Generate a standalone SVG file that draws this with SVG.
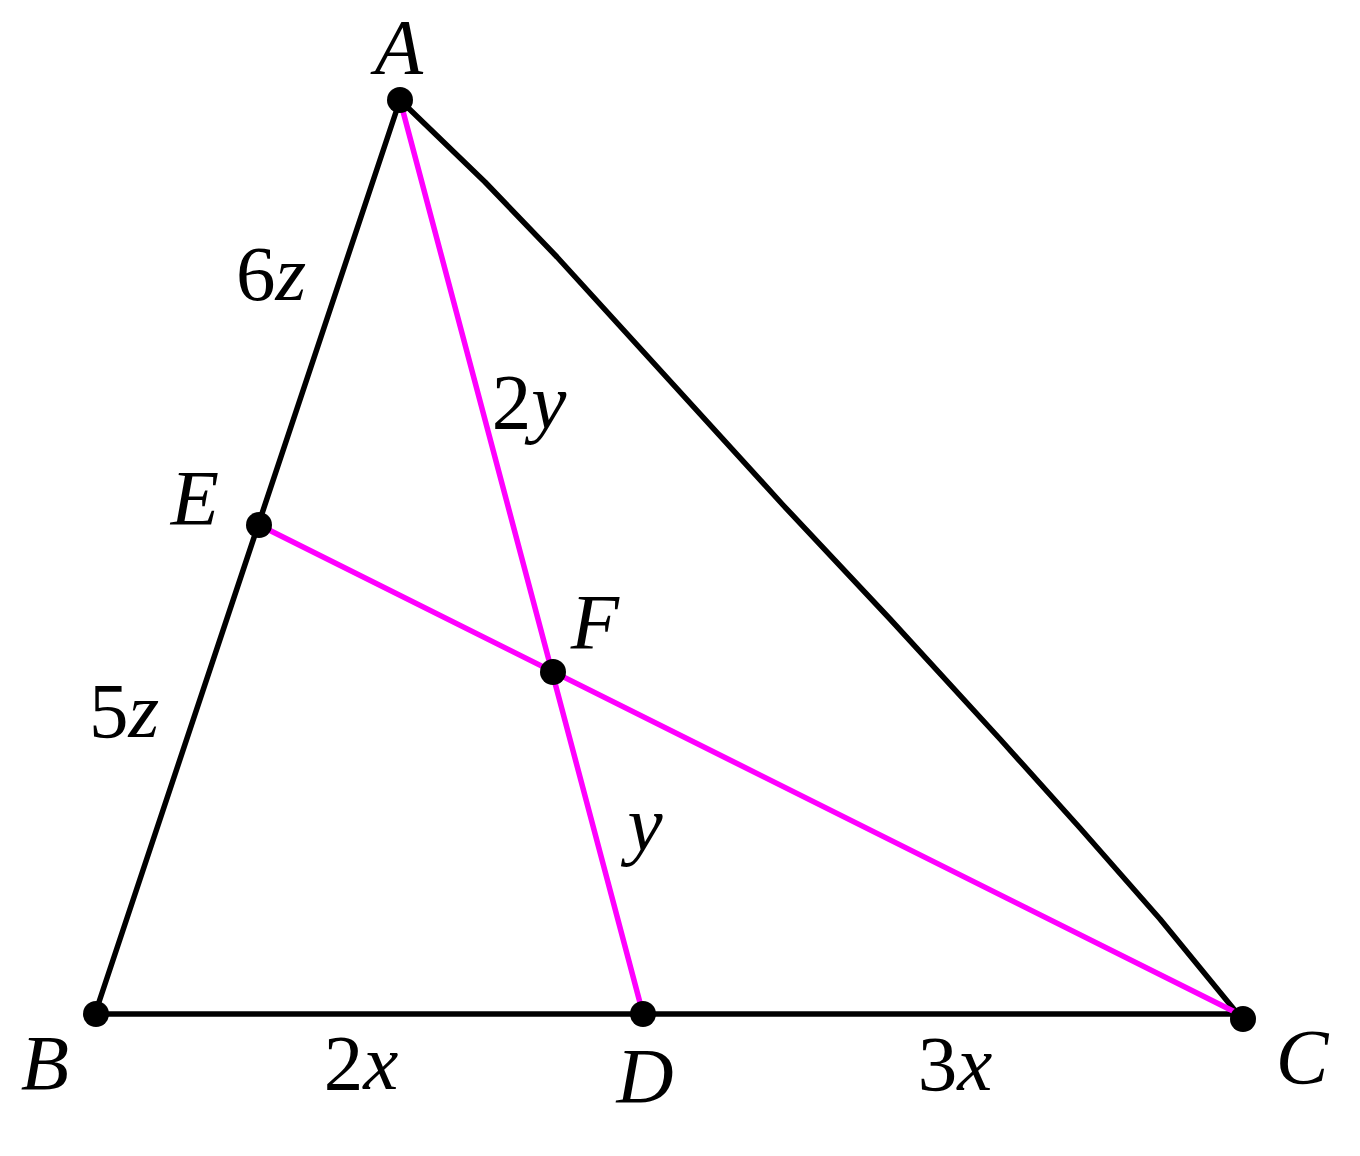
<svg xmlns="http://www.w3.org/2000/svg" width="1360" height="1156" viewBox="0 0 1360 1156">
<style>
.edge{fill:none;stroke:#000;stroke-width:5.5;stroke-linejoin:round;stroke-linecap:round}
.cev{fill:none;stroke:#ff00ff;stroke-width:5.5;stroke-linecap:round}
.dot{fill:#000}
.lbl{font-family:"Liberation Serif","DejaVu Serif",serif;font-size:79px;fill:#000;text-anchor:middle}
.it{font-style:italic}
</style>
<rect width="1360" height="1156" fill="#fff"/>
<g id="connectors">
<path class="edge" d="M400,100 L95,1014"/>
<path class="edge" d="M95,1014 L1237,1014"/>
<path class="edge" d="M400,100 L485,182 L557,257 L783,505 L890,619 L1000,739 L1080,828 L1160,919 L1237,1013"/>
<path class="cev" d="M400,100 L643,1014"/>
<path class="cev" d="M259,525 L1237,1013"/>
</g>
<g id="segment-labels">
<text class="lbl" x="271" y="300">6<tspan class="it">z</tspan></text>
<text class="lbl" x="124" y="737">5<tspan class="it">z</tspan></text>
<text class="lbl" x="529" y="428">2<tspan class="it">y</tspan></text>
<text class="lbl it" x="645" y="850">y</text>
<text class="lbl" x="361" y="1089">2<tspan class="it">x</tspan></text>
<text class="lbl" x="955" y="1090">3<tspan class="it">x</tspan></text>
</g>
<g id="node-A"><circle class="dot" cx="400" cy="100" r="13"/><text class="lbl it" x="399" y="73">A</text></g>
<g id="node-B"><circle class="dot" cx="96" cy="1014" r="13"/><text class="lbl it" x="45" y="1089">B</text></g>
<g id="node-C"><circle class="dot" cx="1243" cy="1019" r="13"/><text class="lbl it" x="1302" y="1083">C</text></g>
<g id="node-D"><circle class="dot" cx="643" cy="1014" r="13"/><text class="lbl it" x="645" y="1102">D</text></g>
<g id="node-E"><circle class="dot" cx="259" cy="525" r="13"/><text class="lbl it" x="195" y="524">E</text></g>
<g id="node-F"><circle class="dot" cx="553" cy="672" r="13"/><text class="lbl it" x="595" y="648">F</text></g>
</svg>
